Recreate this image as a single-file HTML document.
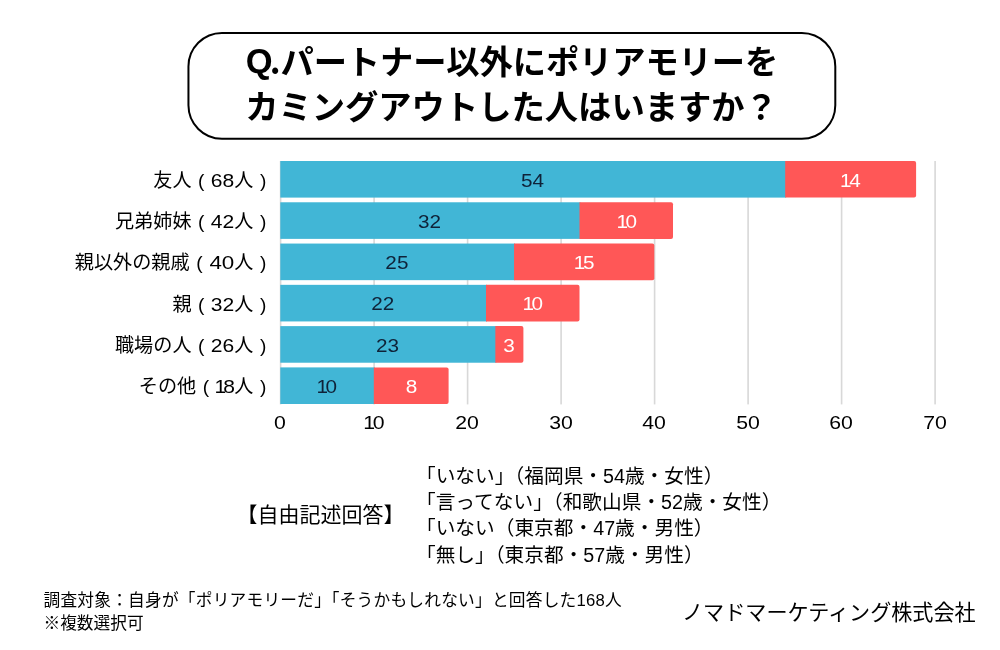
<!DOCTYPE html>
<html lang="ja">
<head>
<meta charset="utf-8">
<title>Q.パートナー以外にポリアモリーをカミングアウトした人はいますか？</title>
<style>
  html, body { margin: 0; padding: 0; background: #ffffff; }
  body {
    width: 1000px; height: 650px; position: relative; overflow: hidden;
    font-family: "Liberation Sans", "Noto Sans CJK JP", sans-serif;
    color: #000;
  }
  .abs { position: absolute; white-space: nowrap; }

  /* ---------- title ---------- */
  #title-box {
    position: absolute; left: 0; top: 0; width: 1000px; height: 160px;
  }
  #title {
    left: 188px; width: 647px; top: 36.5px; text-align: center;
    font-size: 33.3px; font-weight: 700; line-height: 45.5px; color: #000;
  }

  #title { font-family: "Noto Sans CJK JP", "Liberation Sans", sans-serif; }

  #title .t1 { letter-spacing: -0.12px; position: relative; left: -0.9px; }
  #title .q { font-family: "Liberation Sans", sans-serif; font-size: 34.5px; line-height: 0; margin-left: 2.8px; margin-right: -2.8px; position: relative; top: -1px; }

  /* ---------- chart ---------- */
  #chart { position: absolute; left: 0; top: 0; }
  .bar { position: absolute; height: 36.6px; }
  .val {
    position: absolute; top: 1.5px; height: 36.6px; line-height: 36.6px;
    text-align: center; font-size: 18px; white-space: nowrap;
    transform: scaleX(1.15);
  }
  .val.n1, .tick.n1 { letter-spacing: -2px; text-indent: -2px; }
  .val.d { color: #0f2238; }
  .val.w { color: #ffffff; }
  .cat {
    position: absolute; right: 733.7px; white-space: nowrap; text-align: right;
    font-size: 19.15px; line-height: 36.6px; height: 36.6px; color: #000;
    margin-top: 1.8px;
  }
  .cat .n  { margin-right: 1.18px; }
  .cat .lp { margin-right: 3.18px; }
  .cat .dg { display: inline-block; transform: scaleX(1.1); transform-origin: 100% 50%; }
  .cat .rp { margin-left: 1.28px; }
  .cat.one .dg { transform: scaleX(1.1); letter-spacing: -2.6px; margin-right: 2.6px; }
  .cat.one .lp { margin-right: 1.08px; }
  .cat.wide .dg { transform: scaleX(1.17); }
  .cat.wide .lp { margin-right: 5.08px; }
  .tick {
    position: absolute; top: 410.5px; width: 60px; margin-left: -30px; text-align: center;
    font-size: 18px; line-height: 24px; color: #000;
    transform: scaleX(1.18);
  }

  /* ---------- free text ---------- */
  #free-head { left: 236.5px; top: 500px; font-size: 21px; line-height: 30px; }
  #free-list { left: 416px; top: 462.7px; font-size: 19.7px; line-height: 26.3px; }

  /* ---------- footer ---------- */
  #note { left: 43.5px; top: 589px; font-size: 16.7px; line-height: 23.4px; }
  #note .l1 { letter-spacing: 0.23px; }
  #corp { left: 682px; top: 597.5px; font-size: 21.1px; line-height: 30px; }
</style>
</head>
<body>

<svg id="title-box" width="1000" height="160" viewBox="0 0 1000 160"><rect x="188.45" y="32.9" width="646.85" height="105.85" rx="33.5" ry="33.5" fill="#ffffff" stroke="#000000" stroke-width="2"/></svg>
<div id="title" class="abs"><span class="t1"><span class="q">Q</span>.パートナー以外にポリアモリーを</span><br>カミングアウトした人はいますか？</div>

<!-- grid lines + bars -->
<svg id="chart" width="1000" height="650" viewBox="0 0 1000 650">
  <rect x="279.80" y="161" width="1.6" height="243.4" fill="#d8d8d8"/>
  <rect x="373.30" y="161" width="1.6" height="243.4" fill="#d8d8d8"/>
  <rect x="466.80" y="161" width="1.6" height="243.4" fill="#d8d8d8"/>
  <rect x="560.30" y="161" width="1.6" height="243.4" fill="#d8d8d8"/>
  <rect x="653.80" y="161" width="1.6" height="243.4" fill="#d8d8d8"/>
  <rect x="747.30" y="161" width="1.6" height="243.4" fill="#d8d8d8"/>
  <rect x="840.80" y="161" width="1.6" height="243.4" fill="#d8d8d8"/>
  <rect x="934.30" y="161" width="1.6" height="243.4" fill="#d8d8d8"/>
  <rect x="280.30" y="161" width="505.90" height="36.6" fill="#41b6d6"/>
  <path d="M785.20 161 h128.90 a2 2 0 0 1 2 2 v32.60 a2 2 0 0 1 -2 2 h-128.90 z" fill="#ff5757"/>
  <rect x="280.30" y="202.28" width="300.20" height="36.6" fill="#41b6d6"/>
  <path d="M579.50 202.28 h91.50 a2 2 0 0 1 2 2 v32.60 a2 2 0 0 1 -2 2 h-91.50 z" fill="#ff5757"/>
  <rect x="280.30" y="243.56" width="234.75" height="36.6" fill="#41b6d6"/>
  <path d="M514.05 243.56 h138.25 a2 2 0 0 1 2 2 v32.60 a2 2 0 0 1 -2 2 h-138.25 z" fill="#ff5757"/>
  <rect x="280.30" y="284.84" width="206.70" height="36.6" fill="#41b6d6"/>
  <path d="M486.00 284.84 h91.50 a2 2 0 0 1 2 2 v32.60 a2 2 0 0 1 -2 2 h-91.50 z" fill="#ff5757"/>
  <rect x="280.30" y="326.12" width="216.05" height="36.6" fill="#41b6d6"/>
  <path d="M495.35 326.12 h26.05 a2 2 0 0 1 2 2 v32.60 a2 2 0 0 1 -2 2 h-26.05 z" fill="#ff5757"/>
  <rect x="280.30" y="367.4" width="94.50" height="36.6" fill="#41b6d6"/>
  <path d="M373.80 367.4 h72.80 a2 2 0 0 1 2 2 v32.60 a2 2 0 0 1 -2 2 h-72.80 z" fill="#ff5757"/>
</svg>

<!-- row 1 -->
<div class="cat" style="top:161px"><span class="n">友人</span> <span class="lp">(</span> <span class="dg">68</span>人 <span class="rp">)</span></div>
<div class="bar blue" style="top:161px;left:280.3px;width:505.9px"><div class="val d" style="left:0;width:504.9px">54</div></div>
<div class="bar red"  style="top:161px;left:785.2px;width:130.9px"><div class="val w n1" style="left:0;width:100%">14</div></div>

<!-- row 2 -->
<div class="cat" style="top:202.28px"><span class="n">兄弟姉妹</span> <span class="lp">(</span> <span class="dg">42</span>人 <span class="rp">)</span></div>
<div class="bar blue" style="top:202.28px;left:280.3px;width:300.2px"><div class="val d" style="left:0;width:299.2px">32</div></div>
<div class="bar red"  style="top:202.28px;left:579.5px;width:93.5px"><div class="val w n1" style="left:0;width:100%">10</div></div>

<!-- row 3 -->
<div class="cat wide" style="top:243.56px"><span class="n">親以外の親戚</span> <span class="lp">(</span> <span class="dg">40</span>人 <span class="rp">)</span></div>
<div class="bar blue" style="top:243.56px;left:280.3px;width:234.8px"><div class="val d" style="left:0;width:233.8px">25</div></div>
<div class="bar red"  style="top:243.56px;left:514.1px;width:140.2px"><div class="val w n1" style="left:0;width:100%">15</div></div>

<!-- row 4 -->
<div class="cat" style="top:284.84px"><span class="n">親</span> <span class="lp">(</span> <span class="dg">32</span>人 <span class="rp">)</span></div>
<div class="bar blue" style="top:284.84px;left:280.3px;width:206.7px"><div class="val d" style="left:0;width:205.7px">22</div></div>
<div class="bar red"  style="top:284.84px;left:486px;width:93.5px"><div class="val w n1" style="left:0;width:100%">10</div></div>

<!-- row 5 -->
<div class="cat" style="top:326.12px"><span class="n">職場の人</span> <span class="lp">(</span> <span class="dg">26</span>人 <span class="rp">)</span></div>
<div class="bar blue" style="top:326.12px;left:280.3px;width:216.0px"><div class="val d" style="left:0;width:215.0px">23</div></div>
<div class="bar red"  style="top:326.12px;left:495.3px;width:28.1px"><div class="val w" style="left:0;width:100%">3</div></div>

<!-- row 6 -->
<div class="cat one" style="top:367.4px"><span class="n">その他</span> <span class="lp">(</span> <span class="dg">18</span>人 <span class="rp">)</span></div>
<div class="bar blue" style="top:367.4px;left:280.3px;width:94.5px"><div class="val d n1" style="left:0;width:93.5px">10</div></div>
<div class="bar red"  style="top:367.4px;left:373.8px;width:74.8px"><div class="val w" style="left:0;width:100%">8</div></div>

<!-- axis ticks -->
<div class="tick" style="left:280.3px">0</div>
<div class="tick n1" style="left:373.8px">10</div>
<div class="tick" style="left:467.3px">20</div>
<div class="tick" style="left:560.8px">30</div>
<div class="tick" style="left:654.3px">40</div>
<div class="tick" style="left:747.8px">50</div>
<div class="tick" style="left:841.3px">60</div>
<div class="tick" style="left:934.8px">70</div>

<!-- free answers -->
<div id="free-head" class="abs">【自由記述回答】</div>
<div id="free-list" class="abs">「いない」（福岡県・54歳・女性）<br>「言ってない」（和歌山県・52歳・女性）<br>「いない（東京都・47歳・男性）<br>「無し」（東京都・57歳・男性）</div>

<!-- footer -->
<div id="note" class="abs"><span class="l1">調査対象：自身が「ポリアモリーだ」「そうかもしれない」と回答した168人</span><br>※複数選択可</div>
<div id="corp" class="abs">ノマドマーケティング株式会社</div>

</body>
</html>
